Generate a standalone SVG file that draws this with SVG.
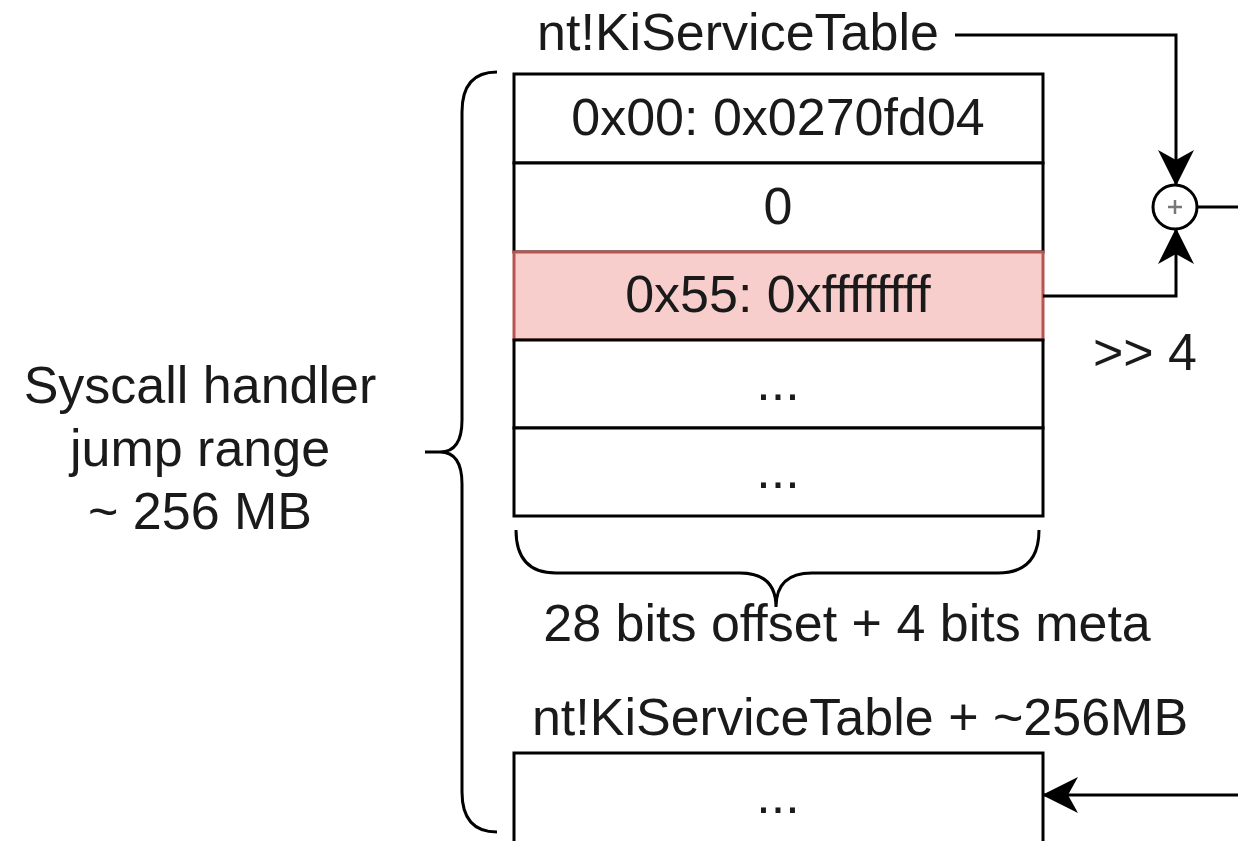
<svg xmlns="http://www.w3.org/2000/svg" width="1238" height="841" viewBox="0 0 1238 841">
  <defs>
    <style>
      text { font-family: "Liberation Sans", Arial, Helvetica, sans-serif; font-size: 52px; fill: #1a1a1a; text-anchor: middle; }
      .cell { fill: #ffffff; stroke: #000000; stroke-width: 3; }
      .hot { fill: #f8cecc; stroke: #b85450; stroke-width: 3; }
      .wire { fill: none; stroke: #000000; stroke-width: 3; }
    </style>
    <marker id="arrow" viewBox="0 0 36 36" refX="34" refY="18" markerWidth="36" markerHeight="36" markerUnits="userSpaceOnUse" orient="auto">
      <path d="M0,0 L36,18 L0,36 L10,18 Z" fill="#000000"/>
    </marker>
  </defs>

  <rect width="1238" height="841" fill="#ffffff"/>

  <!-- service table entries -->
  <g id="table">
    <g id="row0">
      <rect class="cell" x="514" y="74" width="529" height="89"/>
      <text x="778" y="135">0x00: 0x0270fd04</text>
    </g>
    <g id="row1">
      <rect class="cell" x="514" y="163" width="529" height="89"/>
      <text x="778" y="224">0</text>
    </g>
    <g id="row55">
      <rect class="hot" x="514" y="252" width="529" height="88"/>
      <text x="778" y="312">0x55: 0xffffffff</text>
    </g>
    <g id="row3">
      <rect class="cell" x="514" y="340" width="529" height="88"/>
      <text x="778" y="400">...</text>
    </g>
    <g id="row4">
      <rect class="cell" x="514" y="428" width="529" height="88"/>
      <text x="778" y="488">...</text>
    </g>
  </g>

  <g id="target">
    <rect class="cell" x="514" y="753" width="529" height="95"/>
    <text x="778" y="813">...</text>
  </g>

  <g id="labels">
    <text id="base-label" x="738" y="50">nt!KiServiceTable</text>
    <text id="end-label" x="860" y="735">nt!KiServiceTable + ~256MB</text>
    <text id="width-label" x="847" y="641">28 bits offset + 4 bits meta</text>
    <text id="shift-label" x="1145" y="370">&gt;&gt; 4</text>
    <g id="range-label">
      <text x="200" y="403">Syscall handler</text>
      <text x="200" y="466">jump range</text>
      <text x="200" y="529">~ 256 MB</text>
    </g>
  </g>

  <!-- braces -->
  <g id="braces" class="wire">
    <path class="wire" d="M497,72 Q462,72 462,112 L462,420 Q462,452 440,452 L425,452 M440,452 Q462,452 462,484 L462,792 Q462,832 497,832"/>
    <path class="wire" d="M516,530 Q516,573 556,573 L740,573 Q776,573 776,607 M776,607 Q776,573 812,573 L998,573 Q1039,573 1039,530"/>
  </g>

  <g id="adder">
    <circle cx="1175" cy="207" r="22" fill="#ffffff" stroke="#000000" stroke-width="3"/>
    <path d="M1168,207 H1182 M1175,200 V214" stroke="#777777" stroke-width="2.5" fill="none"/>
  </g>

  <!-- connectors -->
  <g id="connectors">
    <path class="wire" d="M955,35 H1176 V184" marker-end="url(#arrow)"/>
    <path class="wire" d="M1043,296 H1176 V230" marker-end="url(#arrow)"/>
    <path class="wire" d="M1197,207 H1238"/>
    <path class="wire" d="M1238,795 H1044" marker-end="url(#arrow)"/>
  </g>
</svg>
